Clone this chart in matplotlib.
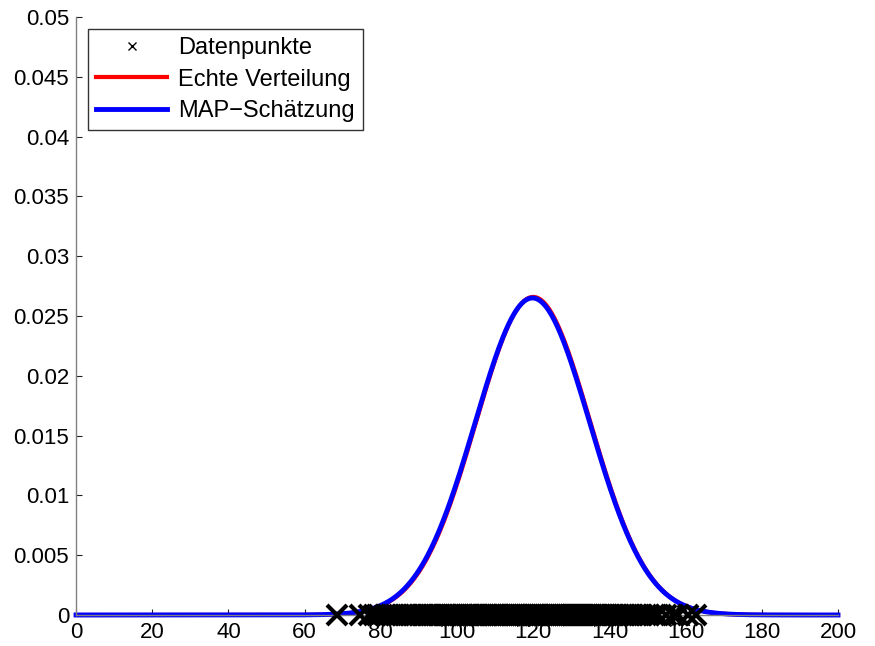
import numpy as np
import matplotlib
matplotlib.use("Agg")
import matplotlib.pyplot as plt

plt.rcParams['font.family'] = ['Liberation Sans', 'DejaVu Sans']

# Parameters
true_mu, true_sigma = 120.0, 15.0
map_mu, map_sigma = 119.8, 15.05

# Data points (read approx. along y=0)
data_points = [
    68.5, 74.6, 76.8, 78.3, 79.6, 81.2, 82.0, 83.1, 84.0, 84.9,
    85.7, 86.5, 87.2, 88.0, 88.6, 89.3, 90.1, 90.8, 91.4, 92.0,
    92.7, 93.3, 93.9, 94.5, 95.1, 95.6, 96.2, 96.8, 97.3, 97.9,
    98.4, 99.0, 99.5, 100.1, 100.6, 101.2, 101.7, 102.3, 102.8, 103.3,
    103.9, 104.4, 104.9, 105.4, 106.0, 106.5, 107.0, 107.5, 108.0, 108.6,
    109.1, 109.6, 110.1, 110.6, 111.1, 111.6, 112.1, 112.6, 113.1, 113.6,
    114.1, 114.6, 115.1, 115.6, 116.1, 116.6, 117.1, 117.6, 118.1, 118.6,
    119.1, 119.6, 120.1, 120.6, 121.1, 121.6, 122.1, 122.6, 123.1, 123.6,
    124.1, 124.6, 125.1, 125.6, 126.1, 126.6, 127.1, 127.6, 128.1, 128.6,
    129.1, 129.6, 130.1, 130.6, 131.2, 131.7, 132.2, 132.7, 133.3, 133.8,
    134.3, 134.9, 135.4, 136.0, 136.5, 137.1, 137.6, 138.2, 138.8, 139.4,
    140.0, 140.6, 141.2, 141.9, 142.5, 143.2, 143.9, 144.6, 145.3, 146.1,
    146.9, 147.7, 148.6, 149.5, 150.5, 151.6, 152.8, 154.9, 156.6, 158.0,
    160.6, 162.6,
]

x_ticks = [0, 20, 40, 60, 80, 100, 120, 140, 160, 180, 200]
y_ticks = [0, 0.005, 0.01, 0.015, 0.02, 0.025, 0.03, 0.035, 0.04, 0.045, 0.05]
y_labels = ['0', '0.005', '0.01', '0.015', '0.02', '0.025', '0.03', '0.035', '0.04', '0.045', '0.05']

def normal_pdf(x, mu, sigma):
    return np.exp(-0.5 * ((x - mu) / sigma) ** 2) / (sigma * np.sqrt(2 * np.pi))

xs = np.linspace(0, 200, 801)

fig = plt.figure(figsize=(8.75, 6.46), dpi=100)
ax = fig.add_axes([0.0869, 0.048, 0.8708, 0.9257])

ax.plot(data_points, np.zeros(len(data_points)), 'x', color='black',
        markersize=14, markeredgewidth=3, label='Datenpunkte', zorder=3,
        clip_on=False)
ax.plot(xs, normal_pdf(xs, true_mu, true_sigma), color='red', linewidth=3,
        label='Echte Verteilung', zorder=2, clip_on=False)
ax.plot(xs, normal_pdf(xs, map_mu, map_sigma), color='blue', linewidth=3.5,
        label='MAP\u2212Schätzung', zorder=2.5, clip_on=False)

ax.set_xlim(0, 200)
ax.set_ylim(0, 0.05)
ax.set_xticks(x_ticks)
ax.set_yticks(y_ticks)
ax.set_yticklabels(y_labels)
ax.tick_params(direction='in', labelsize=16, length=4, width=0.8,
               colors='#222222', labelcolor='black')
ax.tick_params(axis='x', pad=5)
ax.tick_params(axis='y', pad=5)
for s in ['top', 'right']:
    ax.spines[s].set_visible(False)
for s in ['left', 'bottom']:
    ax.spines[s].set_color('#808080')
    ax.spines[s].set_linewidth(1.0)

leg = ax.legend(loc='upper left', bbox_to_anchor=(0.0157, 0.98), fontsize=17,
                frameon=True, fancybox=False, edgecolor='#333333',
                handlelength=3.0, borderpad=0.35, labelspacing=0.4,
                handletextpad=0.45, borderaxespad=0.0, framealpha=1.0)
leg.get_frame().set_linewidth(1.0)
for h in leg.legend_handles:
    if getattr(h, 'get_marker', lambda: None)() == 'x':
        h.set_markersize(6)
        h.set_markeredgewidth(1)

fig.savefig('out.png', dpi=100)
